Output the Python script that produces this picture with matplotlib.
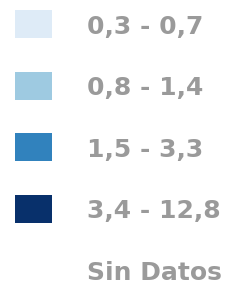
import matplotlib
matplotlib.use('Agg')
import matplotlib.pyplot as plt
from matplotlib.patches import Rectangle

labels = ['0,3 - 0,7', '0,8 - 1,4', '1,5 - 3,3', '3,4 - 12,8', 'Sin Datos']
colors = ['#deebf7', '#9ecae1', '#3182bd', '#08306b', None]

fig = plt.figure(figsize=(2.44, 2.86), dpi=100)
ax = fig.add_axes([0, 0, 1, 1])
ax.set_xlim(0, 244)
ax.set_ylim(286, 0)
ax.axis('off')

y0, step = 23.5, 61.6
for i, (lab, c) in enumerate(zip(labels, colors)):
    yc = y0 + i * step
    if c is not None:
        ax.add_patch(Rectangle((15, yc - 13.5), 37, 28, facecolor=c, edgecolor='none'))
    ax.text(87, yc + 10, lab, color='#9a9a9a', fontsize=18, fontweight='bold',
            family='DejaVu Sans', va='baseline', ha='left')

fig.savefig('out.png', dpi=100)
